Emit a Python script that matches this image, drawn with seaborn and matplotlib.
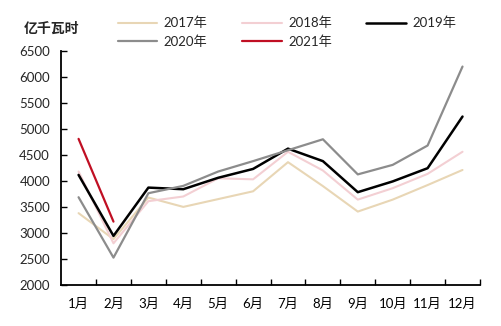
import matplotlib
matplotlib.use("Agg")
import matplotlib.pyplot as plt
import seaborn as sns
import pandas as pd
import numpy as np
from matplotlib.ticker import FixedLocator

months = ["1月", "2月", "3月", "4月", "5月", "6月", "7月", "8月", "9月", "10月", "11月", "12月"]
y2017 = [3380, 2880, 3680, 3500, 3650, 3800, 4360, 3900, 3410, 3640, 3920, 4210]
y2018 = [4180, 2800, 3610, 3700, 4050, 4030, 4560, 4200, 3640, 3860, 4135, 4560]
y2019 = [4115, 2942, 3871, 3840, 4060, 4230, 4620, 4380, 3783, 3990, 4244, 5237]
y2020 = [3686, 2525, 3763, 3904, 4180, 4380, 4590, 4800, 4125, 4308, 4680, 6198]
y2021 = [4808, 3217]

series = {"2017年": y2017, "2018年": y2018, "2019年": y2019, "2020年": y2020, "2021年": y2021}
colors = {"2017年": "#e8d6b5", "2018年": "#f3cfd3", "2019年": "#000000", "2020年": "#8c8c8c", "2021年": "#c00f23"}
widths = {"2017年": 1.5, "2018年": 1.5, "2019年": 1.8, "2020年": 1.6, "2021年": 1.6}

rows = []
for name, vals in series.items():
    for i, v in enumerate(vals):
        rows.append({"pos": i, "value": v, "year": name})
df = pd.DataFrame(rows)

sns.set_theme(style="white")
plt.rcParams["font.family"] = ["Lato", "Noto Sans CJK SC", "DejaVu Sans"]

fig = plt.figure(figsize=(5.01, 3.26), dpi=100)
ax = fig.add_axes([0.122, 0.126, 0.836, 0.718])

order = ["2017年", "2018年", "2019年", "2020年", "2021年"]
for name in order:
    sub = df[df["year"] == name]
    sns.lineplot(data=sub, x="pos", y="value", ax=ax, color=colors[name],
                 linewidth=widths[name], label=name, legend=False)

ax.set_xlim(-0.5, 11.5)
ax.set_ylim(2000, 6500)
ax.set_yticks(np.arange(2000, 6501, 500))
ax.set_xticks(range(12))
ax.set_xticklabels(months)
ax.xaxis.set_minor_locator(FixedLocator(np.arange(0.5, 12, 1)))
ax.tick_params(axis="x", which="major", length=0, pad=9, labelsize=9.5, colors="black")
ax.tick_params(axis="x", which="minor", length=4, direction="in", width=1, color="black", bottom=True)
ax.tick_params(axis="y", which="major", length=4, direction="in", width=1, color="black", left=True, labelsize=9.5, pad=8)
ax.set_xlabel("")
ax.set_ylabel("")
for s in ["top", "right"]:
    ax.spines[s].set_visible(False)
for s in ["left", "bottom"]:
    ax.spines[s].set_color("black")
    ax.spines[s].set_linewidth(1.3)

fig.text(0.047, 0.9, "亿千瓦时", fontsize=10, fontweight="bold", family=["Noto Sans CJK SC"])

handles, labels = ax.get_legend_handles_labels()
hmap = dict(zip(labels, handles))
leg_order = ["2017年", "2020年", "2018年", "2021年", "2019年"]
fig.legend([hmap[k] for k in leg_order], leg_order, ncol=3, loc="upper left",
           bbox_to_anchor=(0.211, 0.985),
           frameon=False, fontsize=9.5, handlelength=3.0, columnspacing=2.6,
           handletextpad=0.5, labelspacing=0.45)

fig.savefig("out.png", dpi=100, facecolor="white")
